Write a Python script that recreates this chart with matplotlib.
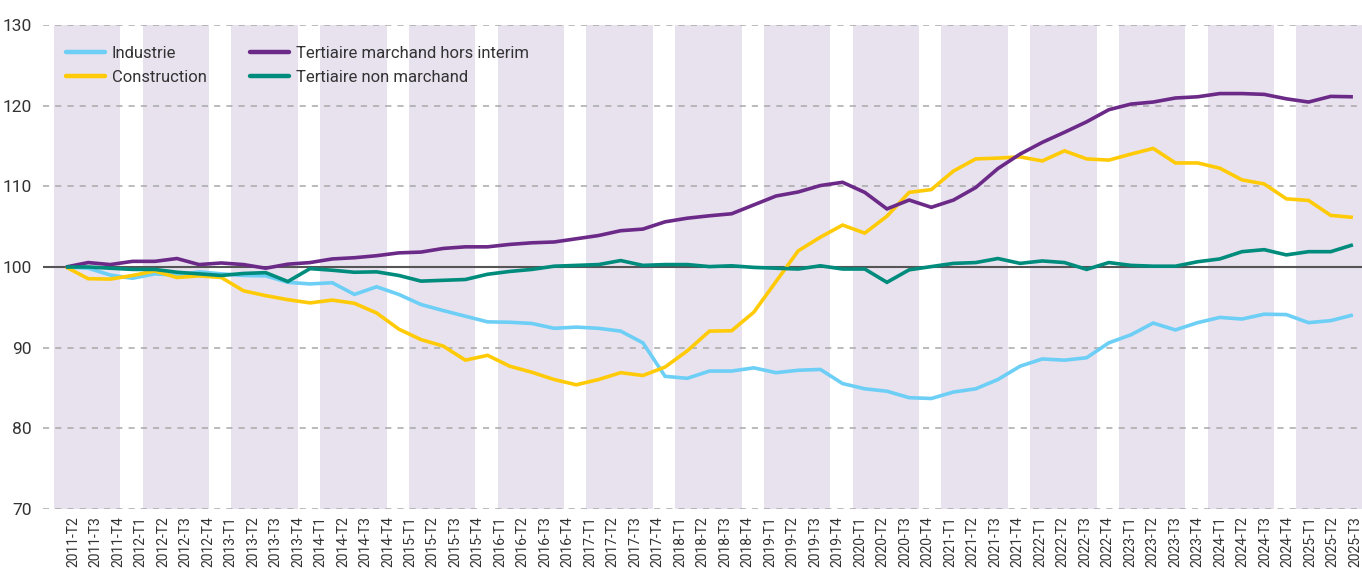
import matplotlib
matplotlib.use("Agg")
import matplotlib.pyplot as plt

plt.rcParams['font.family'] = ['Roboto', 'DejaVu Sans']

# Quarters of the data (base 100 at the first quarter)
years = list(range(2011, 2026))
quarters = [f"{y}-T{q}" for y in years for q in (1, 2, 3, 4)]
quarters = quarters[:quarters.index("2025-T3") + 1]
tick_labels = quarters[1:]

industrie = [100.0, 99.85, 99.0, 98.6, 99.15, 99.0, 99.4, 99.15, 98.95, 98.9,
             98.1, 97.9, 98.05, 96.6, 97.55, 96.6, 95.35, 94.6, 93.9, 93.2,
             93.15, 93.0, 92.4, 92.55, 92.4, 92.05, 90.6, 86.45, 86.2, 87.1,
             87.1, 87.5, 86.9, 87.2, 87.3, 85.55, 84.9, 84.6, 83.8, 83.7,
             84.5, 84.9, 86.05, 87.7, 88.6, 88.45, 88.75, 90.6, 91.6, 93.05,
             92.2, 93.1, 93.75, 93.55, 94.15, 94.1, 93.1, 93.35, 94.05]
construction = [100.0, 98.55, 98.5, 98.95, 99.5, 98.7, 98.9, 98.7, 97.05, 96.45,
                95.95, 95.55, 95.9, 95.5, 94.3, 92.3, 91.0, 90.2, 88.45, 89.05,
                87.7, 86.95, 86.05, 85.4, 86.05, 86.9, 86.55, 87.6, 89.6, 92.05,
                92.1, 94.4, 98.2, 102.0, 103.7, 105.2, 104.2, 106.3, 109.25, 109.6,
                111.9, 113.4, 113.5, 113.65, 113.15, 114.4, 113.4, 113.25, 114.0, 114.7,
                112.9, 112.9, 112.25, 110.8, 110.3, 108.45, 108.25, 106.4, 106.15]
tertiaire_marchand = [100.0, 100.55, 100.3, 100.7, 100.7, 101.05, 100.3, 100.5, 100.3, 99.85,
                      100.35, 100.55, 101.0, 101.15, 101.4, 101.75, 101.85, 102.3, 102.5, 102.5,
                      102.8, 103.0, 103.1, 103.5, 103.9, 104.5, 104.7, 105.6, 106.05, 106.35,
                      106.6, 107.7, 108.8, 109.3, 110.1, 110.5, 109.25, 107.2, 108.3, 107.4,
                      108.3, 109.85, 112.2, 114.0, 115.45, 116.7, 118.0, 119.5, 120.2, 120.45,
                      120.95, 121.1, 121.5, 121.5, 121.4, 120.85, 120.45, 121.15, 121.1]
tertiaire_non_marchand = [100.0, 100.0, 99.85, 99.7, 99.7, 99.35, 99.15, 98.95, 99.2, 99.3,
                          98.2, 99.8, 99.6, 99.35, 99.4, 98.95, 98.25, 98.35, 98.45, 99.1,
                          99.45, 99.7, 100.1, 100.2, 100.3, 100.8, 100.2, 100.3, 100.3, 100.05,
                          100.15, 99.95, 99.85, 99.75, 100.15, 99.75, 99.75, 98.1, 99.65, 100.05,
                          100.45, 100.55, 101.05, 100.45, 100.75, 100.55, 99.7, 100.55, 100.2, 100.1,
                          100.1, 100.65, 101.0, 101.9, 102.15, 101.5, 101.9, 101.9, 102.75]

series_names = ["Industrie", "Construction", "Tertiaire marchand hors interim",
                "Tertiaire non marchand"]
series_values = [industrie, construction, tertiaire_marchand, tertiaire_non_marchand]
series_colors = ["#6DCFF6", "#FFCB08", "#6C2A88", "#008C7C"]

W, H = 1362, 568
fig = plt.figure(figsize=(W / 100, H / 100), dpi=100)
ax = fig.add_axes([43 / W, 1 - 509 / H, 1 - 43 / W, (509 - 25) / H])

x = list(range(len(quarters)))
ax.set_xlim(-1.036, len(quarters) - 1 + 0.41)
ax.set_ylim(70, 130)

# yearly shaded bands
for q_idx, q in enumerate(quarters):
    if q.endswith("T1"):
        ax.axvspan(q_idx - 0.55, q_idx + 2.45, color="#E8E1EE", lw=0, zorder=0)

# grid
ax.set_yticks(range(70, 131, 10))
ax.yaxis.grid(True, color="#A8A8A8", linestyle=(0, (4, 4)), linewidth=1.1)
ax.set_axisbelow(False)
ax.axhline(100, color="#555555", lw=1.5, zorder=2.7)

for name, vals, col in zip(series_names, series_values, series_colors):
    ax.plot(x, vals, color=col, lw=2.6, label=name, zorder=3,
            solid_joinstyle="miter", solid_capstyle="butt")

for s in ax.spines.values():
    s.set_visible(False)
ax.tick_params(axis="y", length=0, pad=8, labelsize=12.5, labelcolor="#333333")
ax.set_xticks([])

# category labels
axl = ax.twiny()
axl.set_xlim(-1.334, len(tick_labels) - 1 + 0.31)
axl.set_xticks(range(len(tick_labels)))
axl.set_xticklabels(tick_labels, rotation=90, fontsize=10, color="#333333", va="top")
axl.xaxis.set_ticks_position("bottom")
axl.tick_params(axis="x", length=0, pad=5)
for s in axl.spines.values():
    s.set_visible(False)

leg = ax.legend(loc="upper left", bbox_to_anchor=(66 / W, 1 - 46 / H),
                bbox_transform=fig.transFigure, ncol=2, frameon=False,
                fontsize=12, handlelength=2.35, handletextpad=0.4,
                columnspacing=2.6, labelspacing=0.52, borderpad=0, borderaxespad=0)
for t in leg.get_texts():
    t.set_color("#333333")
for l in leg.get_lines():
    l.set_linewidth(3.2)
    l.set_solid_capstyle("round")

fig.savefig("out.png", dpi=100)
